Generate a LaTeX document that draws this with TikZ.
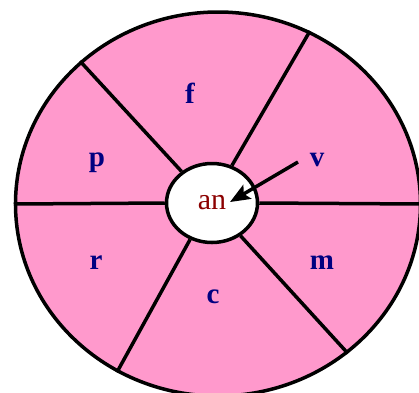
\documentclass[tikz,border=0pt]{standalone}
\usepackage{fontspec}
\setmainfont{Liberation Serif}
\usetikzlibrary{shapes.geometric,arrows.meta}
\definecolor{radrosa}{RGB}{255,153,204}
\definecolor{dunkelblau}{RGB}{0,0,128}
\definecolor{dunkelrot}{RGB}{140,0,0}
\tikzset{
	feld/.style={font=\fontsize{29}{32}\selectfont\bfseries, text=dunkelblau},
	pfeil/.style={line width=3.5pt, -{Stealth[length=20pt,width=16pt,inset=4pt]}}
}
\begin{document}
\begin{tikzpicture}[x=1pt, y=-1pt, line width=3.5pt]
		\useasboundingbox (0,0) rectangle (419,392);
		
		%Rad
		\node[ellipse, draw, fill=radrosa, minimum width=405pt, minimum height=384pt, inner sep=0pt] (rad) at (218,204) {};
		
		%Mitte
		\node[ellipse, draw, fill=white, minimum width=91pt, minimum height=79pt, inner sep=0pt,
			font=\fontsize{30}{33}\selectfont, text=dunkelrot] (an) at (212,203) {an};
		
		%Speichen
		\foreach \w in {0,62,134,180,239,311}
			\draw (an.\w) -- (rad.\w);
		
		%Felder
		\node[feld] (f) at (190,93) {f};
		\node[feld] (p) at (97,163) {p};
		\node[feld] (v) at (317,160) {v};
		\node[feld] (r) at (96,263) {r};
		\node[feld] (m) at (322,263) {m};
		\node[feld] (c) at (213,297) {c};
		
		%Pfeil
		\coordinate (pfeilanfang) at (298,162);
		\coordinate (pfeilspitze) at (230,202);
		\draw[pfeil] (pfeilanfang) -- (pfeilspitze);
\end{tikzpicture}
\end{document}
